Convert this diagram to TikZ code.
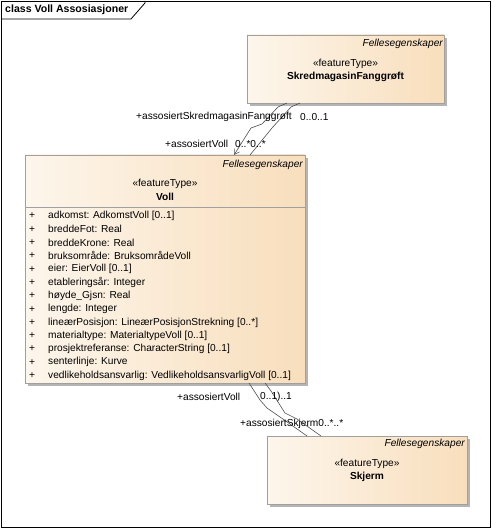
\documentclass[tikz,border=0pt]{standalone}
\usepackage{fontspec}
\setmainfont{Liberation Sans}
\usetikzlibrary{arrows.meta,shadows}
\definecolor{boxl}{HTML}{FDF6EC}
\definecolor{boxr}{HTML}{F8DEBC}
\definecolor{boxline}{HTML}{A0A0A0}
\definecolor{shad}{HTML}{B4B4B4}
\definecolor{conn}{HTML}{505050}
\tikzset{
  umlbox/.style={draw=boxline, line width=0.8bp, left color=boxl, right color=boxr,
    anchor=north west, inner sep=0pt, outer sep=0pt,
    general shadow={fill=shad, shadow xshift=3bp, shadow yshift=-3bp}},
  txt/.style={font=\fontsize{10.2}{12}\selectfont, inner sep=0pt, text=black},
  pkg/.style={txt, font=\fontsize{10.2}{12}\selectfont\itshape, anchor=east},
  stereo/.style={txt, anchor=center},
  cname/.style={txt, font=\fontsize{10.2}{12}\selectfont\bfseries, anchor=center},
  attr/.style={txt, anchor=west},
  lbl/.style={txt, anchor=west},
  assoc/.style={draw=conn, line width=0.6bp},
}
\begin{document}
\begin{tikzpicture}[x=1bp,y=-1bp]
\useasboundingbox (0,0) rectangle (492,530);
\fill[white] (0,0) rectangle (492,530);
% frame
\draw[black, line width=0.8bp] (1,1) rectangle (490,527);
\draw[black, line width=0.8bp] (1,19) -- (131,19) -- (145,3) -- (145,1);
\node[txt, font=\fontsize{10.6}{12}\selectfont\bfseries, anchor=west] (title) at (5,10) {class Voll Assosiasjoner};

% boxes
\node[umlbox, minimum width=197bp, minimum height=68bp] (skred) at (247,35) {};
\node[umlbox, minimum width=280bp, minimum height=228bp] (voll) at (25,155) {};
\node[umlbox, minimum width=200bp, minimum height=68bp] (skjerm) at (267,436) {};

% Skredmagasin texts
\node[pkg] (skredpkg) at (443,44) {Fellesegenskaper};
\node[stereo] (skredst) at (345.5,64) {«featureType»};
\node[cname] (skredname) at (345.5,77) {SkredmagasinFanggrøft};

% Voll texts
\node[pkg] (vollpkg) at (303,165) {Fellesegenskaper};
\node[stereo] (vollst) at (165,184) {«featureType»};
\node[cname] (vollname) at (165,197) {Voll};
\draw[boxline, line width=0.8bp] (25,207) -- (305,207);
\foreach \i/\t in {0/{adkomst: AdkomstVoll [0..1]},
                  1/{breddeFot: Real},
                  2/{breddeKrone: Real},
                  3/{bruksområde: BruksområdeVoll},
                  4/{eier: EierVoll [0..1]},
                  5/{etableringsår: Integer},
                  6/{høyde\_Gjsn: Real},
                  7/{lengde: Integer},
                  8/{lineærPosisjon: LineærPosisjonStrekning [0..*]},
                  9/{materialtype: MaterialtypeVoll [0..1]},
                  10/{prosjektreferanse: CharacterString [0..1]},
                  11/{senterlinje: Kurve},
                  12/{vedlikeholdsansvarlig: VedlikeholdsansvarligVoll [0..1]}}{
  \node[attr] (plus\i) at (29,216+13.3*\i) {+};
  \node[attr] (attr\i) at (48,216+13.3*\i) {\t};
}

% Skjerm texts
\node[pkg] (skjermpkg) at (465,444) {Fellesegenskaper};
\node[stereo] (skjermst) at (367,464) {«featureType»};
\node[cname] (skjermname) at (367,477) {Skjerm};

% upper associations
\coordinate (a1s) at (287,103);
\coordinate (a1e) at (234,155);
\coordinate (a2s) at (300,103);
\coordinate (a2e) at (250,155);
\draw[assoc, -{Straight Barb[length=5bp,width=6bp]}] (a1s) -- (278,107) -- (262,124) -- (251,128) -- (a1e);
\draw[assoc] (a2s) -- (291,107) -- (272,128) -- (a2e);

\node[lbl] (l1) at (136,117) {+assosiertSkredmagasinFanggrøft};
\node[lbl] (l2) at (300,117) {0..0..1};
\node[lbl] (l3) at (165,144) {+assosiertVoll};
\node[lbl] (l4) at (235,144) {0..*0..*};

% lower associations
\coordinate (b1s) at (249,383);
\coordinate (b1e) at (307,436);
\coordinate (b2s) at (265,383);
\coordinate (b2e) at (321,436);
\draw[assoc] (b1s) -- (260,400) -- (267,408) -- (280,417) -- (b1e);
\draw[assoc] (b2s) -- (271,391) -- (285,413) -- (297,419) -- (b2e);

\node[lbl] (l5) at (177,397) {+assosiertVoll};
\node[lbl] (l6) at (260,397) {0..1)..1};
\node[lbl] (l7) at (240,424) {+assosiertSkjerm0..*..*};
\end{tikzpicture}
\end{document}
